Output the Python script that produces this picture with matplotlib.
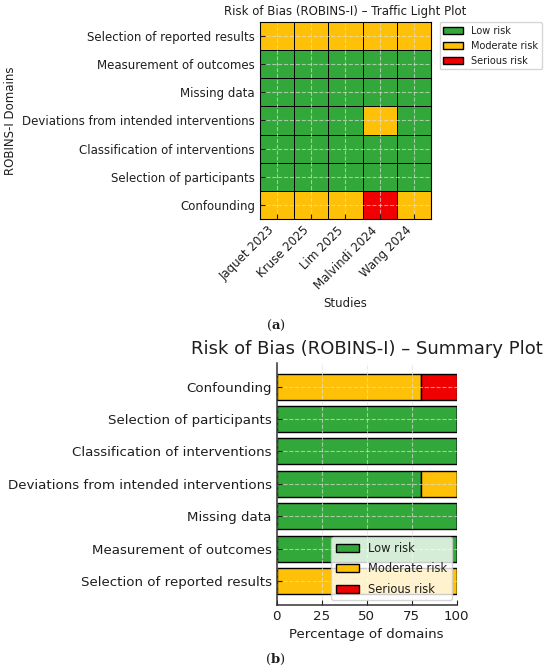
import numpy as np
import matplotlib
matplotlib.use("Agg")
import matplotlib.pyplot as plt
from matplotlib.colors import ListedColormap
from matplotlib.patches import Patch

studies = ["Jaquet 2023", "Kruse 2025", "Lim 2025", "Malvindi 2024", "Wang 2024"]
domains = ["Confounding", "Selection of participants", "Classification of interventions",
           "Deviations from intended interventions", "Missing data",
           "Measurement of outcomes", "Selection of reported results"]
levels = ["Low risk", "Moderate risk", "Serious risk"]

# judgement per study: 0 = low, 1 = moderate, 2 = serious
confounding = [1, 1, 1, 2, 1]
participants = [0, 0, 0, 0, 0]
classification = [0, 0, 0, 0, 0]
deviations = [0, 0, 0, 1, 0]
missing = [0, 0, 0, 0, 0]
measurement = [0, 0, 0, 0, 0]
reported = [1, 1, 1, 1, 1]

colors = ["#33a83a", "#ffc107", "#f00000"]
ink = "#1e1e1e"

plt.rcParams.update({
    "font.family": ["DejaVu Sans"],
    "text.color": ink,
    "axes.labelcolor": ink,
    "xtick.color": ink,
    "ytick.color": ink,
    "xtick.direction": "in",
    "ytick.direction": "in",
})

grid = np.array([confounding, participants, classification, deviations,
                 missing, measurement, reported])

fig = plt.figure(figsize=(5.5, 6.72), dpi=100)

# (a) traffic light plot
ax1 = fig.add_axes([0.4727, 0.6741, 0.3109, 0.2932])
ax1.pcolormesh(grid, cmap=ListedColormap(colors), vmin=-0.5, vmax=2.5,
               edgecolors="k", linewidth=0.6)
ax1.set_xticks(np.arange(len(studies)) + 0.5)
ax1.set_xticklabels(studies, rotation=45, ha="right", fontsize=8.5)
ax1.set_yticks(np.arange(len(domains)) + 0.5)
ax1.set_yticklabels(domains, fontsize=8.5)
ax1.tick_params(length=3.5, width=0.8)
ax1.grid(True, ls="--", color="#e0e0e0", alpha=0.65, lw=0.8)
ax1.set_xlabel("Studies", fontsize=8.5)
ax1.set_ylabel("ROBINS-I Domains", fontsize=8.5)
ax1.set_title("Risk of Bias (ROBINS-I) \u2013 Traffic Light Plot", fontsize=8.5, pad=5)
handles = [Patch(facecolor=c, edgecolor="k", label=l) for c, l in zip(colors, levels)]
ax1.legend(handles=handles, loc="upper left", bbox_to_anchor=(1.05, 1),
           borderaxespad=0, fontsize=7)

# (b) summary plot
ax2 = fig.add_axes([0.5031, 0.0997, 0.3273, 0.3606])
ypos = np.arange(len(domains))
left = np.zeros(len(domains))
for k, (c, l) in enumerate(zip(colors, levels)):
    pct = (grid == k).sum(axis=1) / grid.shape[1] * 100
    ax2.barh(ypos, pct, left=left, color=c, edgecolor="k", linewidth=1.0,
             height=0.8, label=l)
    left += pct
ax2.set_yticks(ypos)
ax2.set_yticklabels(domains, fontsize=9.6)
ax2.invert_yaxis()
ax2.set_xlim(0, 100)
ax2.set_xticks([0, 25, 50, 75, 100])
ax2.tick_params(labelsize=9.6, length=3.5, width=0.8)
ax2.grid(True, ls="--", color="#e0e0e0", alpha=0.65, lw=0.8)
for s in ["top", "right"]:
    ax2.spines[s].set_visible(False)
for s in ["left", "bottom"]:
    ax2.spines[s].set_color("#333333")
    ax2.spines[s].set_linewidth(1.1)
ax2.set_xlabel("Percentage of domains", fontsize=9.6)
ax2.set_title("Risk of Bias (ROBINS-I) \u2013 Summary Plot", fontsize=13, pad=6)
ax2.legend(loc="lower right", fontsize=8.3, labelspacing=0.65, borderaxespad=0.4)

fig.text(0.502, 1 - 325 / 672, r"($\mathbf{a}$)", ha="center", va="center",
         family="DejaVu Serif", math_fontfamily="dejavuserif", fontsize=9.5)
fig.text(0.5, 1 - 659 / 672, r"($\mathbf{b}$)", ha="center", va="center",
         family="DejaVu Serif", math_fontfamily="dejavuserif", fontsize=9.5)

fig.savefig("out.png", dpi=100)
